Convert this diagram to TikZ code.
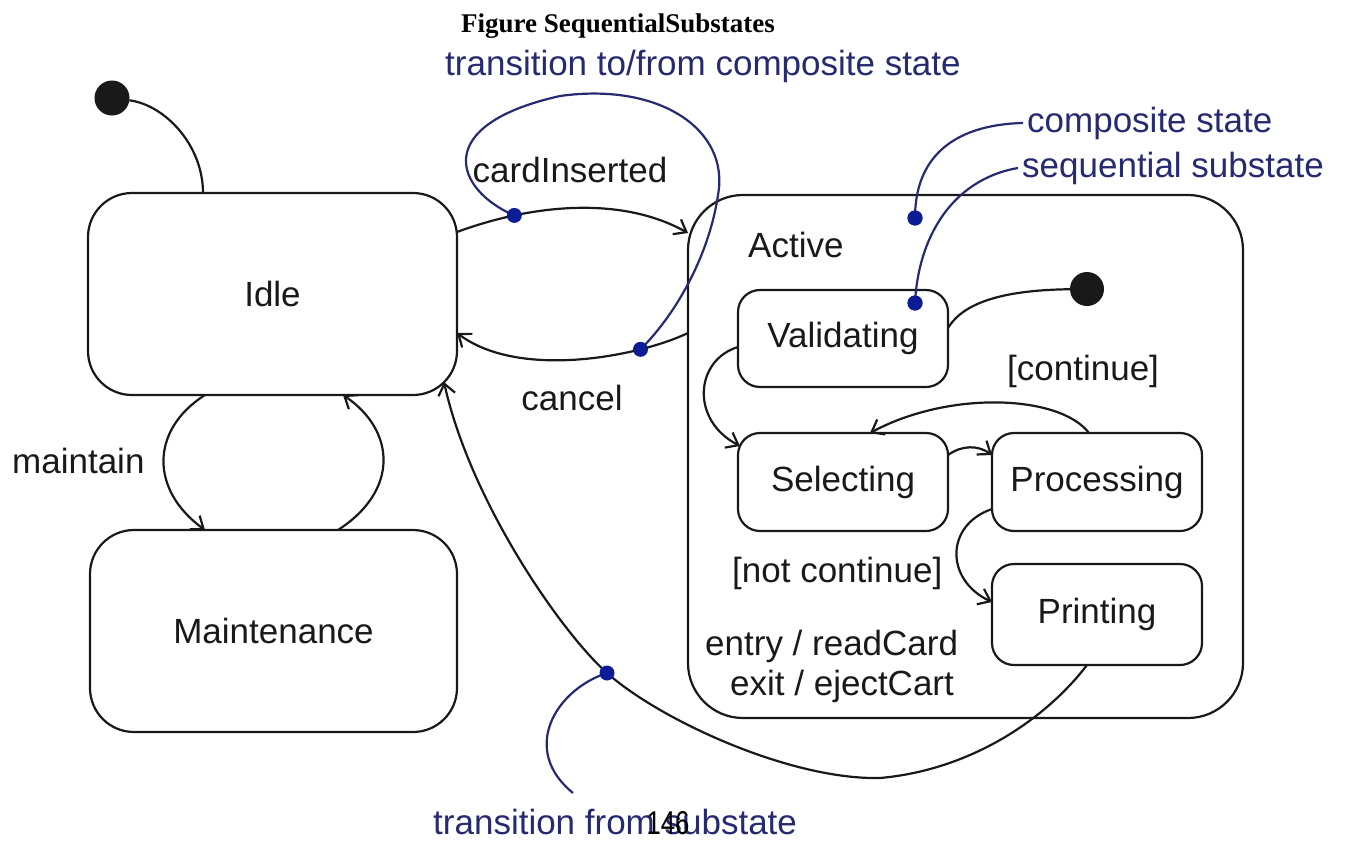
\documentclass[tikz,border=0pt]{standalone}
\usepackage{fontspec}
\setmainfont{Liberation Sans}
\newfontfamily\serifbold{Liberation Serif}
\usetikzlibrary{arrows.meta}

\definecolor{ink}{RGB}{25,25,25}
\definecolor{navy}{RGB}{38,42,112}
\definecolor{dotblue}{RGB}{12,28,150}

\newcommand\dgfont{\fontsize{35}{40}\selectfont}
\newcommand\headfont{\serifbold\bfseries\fontsize{27}{30}\selectfont}

\begin{document}
\begin{tikzpicture}[x=1pt,y=-1pt,
  state/.style={draw=ink, line width=2.2pt, inner sep=0pt, outer sep=0pt,
                font=\dgfont, text=ink},
  bigstate/.style={state, rounded corners=44pt, minimum width=369pt, minimum height=202pt},
  substate/.style={state, rounded corners=22pt, minimum width=210pt, minimum height=98pt},
  initial/.style={circle, fill=ink, inner sep=0pt, outer sep=0pt, minimum size=35pt},
  trans/.style={draw=ink, line width=2.2pt, -{Straight Barb[length=11pt,width=17pt]}},
  plain/.style={draw=ink, line width=2.2pt},
  leader/.style={draw=navy, line width=2.2pt},
  bdot/.style={circle, fill=dotblue, inner sep=0pt, minimum size=15pt},
  lbl/.style={inner sep=0pt, font=\dgfont, text=ink},
  note/.style={inner sep=0pt, font=\dgfont, text=navy}]

\useasboundingbox (0,0) rectangle (1350,844);

% headings and annotation texts
\node[anchor=base, inner sep=0pt, font=\headfont] (title) at (618,32) {Figure SequentialSubstates};
\node[note, anchor=base west] (lbltr) at (445,75) {transition to/from composite state};
\node[note, anchor=base west] (lblcs) at (1027,132) {composite state};
\node[note, anchor=base west] (lblss) at (1022,177) {sequential substate};
\node[note, anchor=base west] (lbltf) at (433,834) {transition from substate};

% top-level states
\node[bigstate] (idle) at (272.5,294) {Idle};
\node[bigstate, minimum width=367pt] (maint) at (273.5,631) {Maintenance};
\node[initial] (init1) at (112,98) {};

% composite state with its substates
\node[state, rounded corners=55pt, minimum width=555pt, minimum height=523pt] (active) at (965.5,456.5) {};
\node[lbl, anchor=base west] (activelbl) at (748,257) {Active};
\node[substate, minimum height=97pt] (valid) at (843,338.5) {Validating};
\node[substate] (select) at (843,482) {Selecting};
\node[substate] (proc) at (1097,482) {Processing};
\node[substate, minimum height=101pt] (print) at (1097,614.5) {Printing};
\node[initial, minimum size=34pt] (init2) at (1087,289) {};
\node[lbl, anchor=base west] (entrylbl) at (705,655) {entry / readCard};
\node[lbl, anchor=base west] (exitlbl) at (730,695) {exit / ejectCart};

% transition labels
\node[lbl, anchor=base] (cardlbl) at (570,182) {cardInserted};
\node[lbl, anchor=base] (cancellbl) at (572,410) {cancel};
\node[lbl, anchor=base west] (maintlbl) at (12,473) {maintain};
\node[lbl, anchor=base west] (contlbl) at (1007,380) {[continue]};
\node[lbl, anchor=base west] (notcontlbl) at (732,582) {[not continue]};

% initial transitions
\draw[plain] (init1) .. controls (165,105) and (203,145) .. ([xshift=115pt]idle.north west);
\draw[plain] (init2) .. controls (1010,290) and (965,300) .. ([yshift=-38pt]valid.north east);

% Idle <-> Active
\draw[trans] ([yshift=-39pt]idle.north east) .. controls (530,205) and (620,195) ..
  ([yshift=-38pt]active.north west) coordinate[pos=0.25] (d1);
\draw[trans] ([yshift=-138pt]active.north west) .. controls (640,356) and (520,380) ..
  ([yshift=-140pt]idle.north east) coordinate[pos=0.25] (d2);

% Idle <-> Maintenance
\draw[trans] ([xshift=117pt]idle.south west) .. controls (150,430) and (150,490) ..
  ([xshift=115pt]maint.north west);
\draw[trans] ([xshift=248pt]maint.north west) .. controls (400,490) and (395,430) ..
  ([xshift=255pt]idle.south west);

% transitions between substates
\draw[trans] ([yshift=-57pt]valid.north west) .. controls (695,360) and (690,420) ..
  ([shift={(2pt,-13pt)}]select.north west);
\draw[trans] ([yshift=-22pt]select.north east) .. controls (962,445) and (978,445) ..
  ([yshift=-22pt]proc.north west);
\draw[trans] ([xshift=-8pt]proc.north) .. controls (1060,395) and (950,390) ..
  ([xshift=27pt]select.north);
\draw[trans] ([yshift=22pt]proc.south west) .. controls (945,525) and (945,580) ..
  ([yshift=-38pt]print.north west);

% transition from a substate back to Idle
\draw[trans] ([xshift=-10pt]print.south) .. controls (1045,720) and (970,770) .. (880,778)
  .. controls (790,780) and (660,720) .. (607,673) coordinate (d3)
  .. controls (560,631) and (470,500) .. ([shift={(-13pt,13pt)}]idle.south east);

% annotation leaders
\node[bdot] (dotcs) at (915,218) {};
\node[bdot] (dotss) at (915,303) {};
\coordinate (tfend) at (573,793);
\draw[leader] (d1) .. controls (455,190) and (430,125) .. (560,96)
  .. controls (660,82) and (730,130) .. (718,195)
  .. controls (710,250) and (680,310) .. (d2);
\draw[leader] (dotcs.center) .. controls (915,160) and (950,125) .. ([xshift=-4pt]lblcs.west);
\draw[leader] (dotss.center) .. controls (918,240) and (950,180) .. ([xshift=-4pt]lblss.west);
\draw[leader] (d3) .. controls (555,690) and (520,750) .. (tfend);

% annotation dots
\node[bdot] (dot1) at (d1) {};
\node[bdot] (dot2) at (d2) {};
\node[bdot] (dot3) at (d3) {};
\node[bdot] (dotcs2) at (dotcs) {};
\node[bdot] (dotss2) at (dotss) {};

% page number
\node[anchor=base, inner sep=0pt, font=\fontsize{33}{36}\selectfont, text=black] (pagenum) at (668,834) {\scalebox{0.78}[1]{146}};
\end{tikzpicture}
\end{document}
